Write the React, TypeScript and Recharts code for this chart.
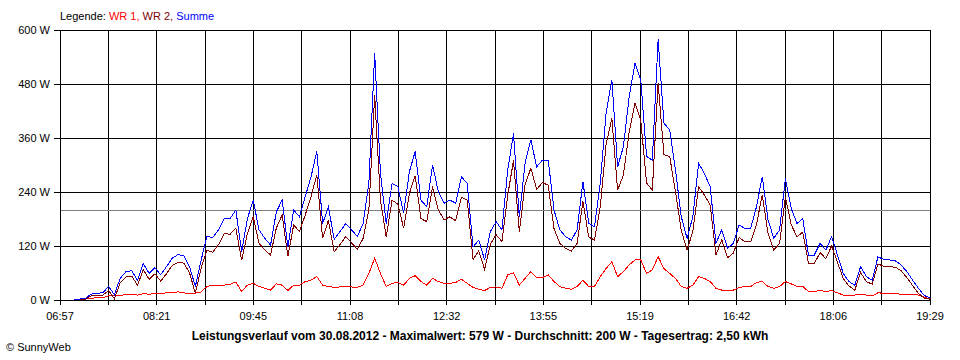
import { CartesianGrid, Line, LineChart, ReferenceLine, XAxis, YAxis } from "recharts";

// samples every 5 minutes, first one at 07:04
const START = 424;
const STEP = 5;

const summe = [
  0, 0, 2, 4, 13, 15, 16, 30, 12, 48,
  63, 65, 44, 81, 59, 72, 56, 74, 93, 101,
  98, 74, 30, 89, 141, 139, 156, 181, 181, 200,
  107, 181, 222, 156, 137, 122, 196, 222, 118, 200,
  185, 230, 274, 330, 170, 207, 135, 152, 170, 156,
  141, 170, 260, 548, 281, 170, 259, 252, 193, 285,
  330, 222, 207, 300, 241, 215, 222, 215, 274, 259,
  118, 133, 89, 152, 174, 156, 289, 370, 185, 304,
  356, 296, 311, 311, 200, 156, 141, 133, 156, 263,
  170, 163, 259, 415, 489, 296, 341, 452, 526, 489,
  319, 311, 579, 393, 378, 289, 185, 137, 185, 304,
  281, 252, 126, 156, 115, 126, 167, 159, 159, 207,
  274, 178, 137, 156, 270, 204, 170, 181, 100, 100,
  126, 111, 141, 100, 59, 41, 33, 74, 52, 44,
  96, 90, 89, 87, 78, 63, 44, 26, 10, 5,
];

const wr1 = [
  0, 0, 1, 2, 4, 5, 5, 9, 9, 10,
  12, 12, 11, 14, 13, 14, 14, 16, 16, 18,
  16, 14, 15, 18, 30, 33, 33, 33, 35, 40,
  19, 33, 37, 30, 26, 22, 36, 33, 21, 33,
  33, 41, 44, 52, 33, 30, 28, 29, 29, 29,
  28, 33, 59, 93, 59, 30, 37, 39, 33, 48,
  54, 41, 33, 48, 41, 37, 37, 39, 46, 37,
  28, 24, 21, 28, 29, 26, 56, 60, 33, 48,
  63, 50, 50, 56, 41, 30, 26, 24, 30, 44,
  30, 30, 52, 70, 85, 52, 63, 78, 89, 89,
  59, 67, 96, 70, 59, 48, 30, 26, 33, 52,
  48, 41, 26, 22, 21, 22, 28, 30, 30, 39,
  41, 30, 26, 30, 41, 36, 30, 30, 19, 19,
  21, 19, 21, 16, 11, 10, 11, 13, 11, 9,
  16, 15, 15, 14, 13, 13, 12, 11, 6, 3,
];

const wr2 = [
  0, 0, 1, 2, 9, 10, 11, 21, 3, 38,
  51, 53, 33, 67, 46, 58, 42, 58, 77, 83,
  82, 60, 15, 71, 111, 106, 123, 148, 146, 160,
  88, 148, 185, 126, 111, 100, 160, 189, 97, 167,
  152, 189, 230, 278, 137, 177, 107, 123, 141, 127,
  113, 137, 201, 455, 222, 140, 222, 213, 160, 237,
  276, 181, 174, 252, 200, 178, 185, 176, 228, 222,
  90, 109, 68, 124, 145, 130, 233, 310, 152, 256,
  293, 246, 261, 255, 159, 126, 115, 109, 126, 219,
  140, 133, 207, 345, 404, 244, 278, 374, 437, 400,
  260, 244, 483, 323, 319, 241, 155, 111, 152, 252,
  233, 211, 100, 134, 94, 104, 139, 129, 129, 168,
  233, 148, 111, 126, 229, 168, 140, 151, 81, 81,
  105, 92, 120, 84, 48, 31, 22, 61, 41, 35,
  80, 75, 74, 73, 65, 50, 32, 15, 4, 2,
];

const xTickLabels = [
  "06:57", "", "08:21", "", "09:45", "", "11:08", "", "12:32", "",
  "13:55", "", "15:19", "", "16:42", "", "18:06", "", "19:29",
];
const yTicks = [0, 120, 240, 360, 480, 600];
const average = 200;

const X_MIN = 417;
const X_MAX = 1169;
const xTicks = xTickLabels.map(
  (_, i) => X_MIN + (i * (X_MAX - X_MIN)) / (xTickLabels.length - 1)
);

const data = summe.map((s, i) => ({
  t: START + i * STEP,
  wr1: wr1[i],
  wr2: wr2[i],
  summe: s,
}));

const font = '"Liberation Sans", Arial, sans-serif';
const tickStyle = { fill: "#000", fontSize: 11, fontFamily: font };

export default function App() {
  return (
    <div
      style={{
        position: "absolute",
        left: 0,
        top: 0,
        width: 960,
        height: 360,
        background: "#fff",
        fontFamily: font,
        fontSize: 11,
        color: "#000",
      }}
    >
      <div style={{ position: "absolute", left: 60, top: 10, whiteSpace: "nowrap" }}>
        Legende: <span style={{ color: "#ff0000" }}>WR 1,</span>{" "}
        <span style={{ color: "#800000" }}>WR 2,</span>{" "}
        <span style={{ color: "#0000ff" }}>Summe</span>
      </div>
      <LineChart
        width={960}
        height={360}
        data={data}
        margin={{ top: 30, right: 30, bottom: 0, left: 0 }}
        style={{ shapeRendering: "crispEdges" }}
      >
        <CartesianGrid stroke="#000" strokeOpacity={1} />
        <XAxis
          dataKey="t"
          type="number"
          domain={[X_MIN, X_MAX]}
          ticks={xTicks}
          interval={0}
          tickFormatter={(_v: number, i: number) => xTickLabels[i]}
          height={60}
          tickSize={5}
          tickMargin={7}
          stroke="#000"
          tick={tickStyle}
        />
        <YAxis
          type="number"
          domain={[0, 600]}
          ticks={yTicks}
          interval={0}
          tickFormatter={(v: number) => `${v} W`}
          width={60}
          tickSize={6}
          tickMargin={4}
          stroke="#000"
          tick={tickStyle}
        />
        <ReferenceLine y={average} stroke="#808080" />
        <Line type="linear" dataKey="wr1" stroke="#ff0000" strokeWidth={1} dot={false} isAnimationActive={false} />
        <Line type="linear" dataKey="wr2" stroke="#800000" strokeWidth={1} dot={false} isAnimationActive={false} />
        <Line type="linear" dataKey="summe" stroke="#0000ff" strokeWidth={1} dot={false} isAnimationActive={false} />
      </LineChart>
      <div
        style={{
          position: "absolute",
          left: 0,
          width: 960,
          top: 329,
          textAlign: "center",
          fontWeight: "bold",
          fontSize: 12,
        }}
      >
        Leistungsverlauf vom 30.08.2012 - Maximalwert: 579 W - Durchschnitt: 200 W - Tagesertrag: 2,50 kWh
      </div>
      <div style={{ position: "absolute", left: 6, top: 341 }}>© SunnyWeb</div>
    </div>
  );
}
